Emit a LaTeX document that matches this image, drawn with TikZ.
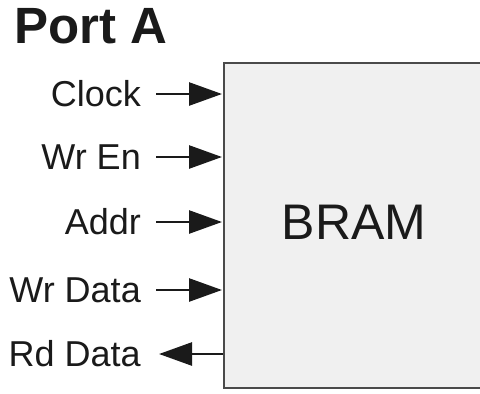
\documentclass[tikz,border=0pt]{standalone}
\usepackage{fontspec}
\setmainfont{Liberation Sans}
\usetikzlibrary{arrows.meta,calc}
\definecolor{boxfill}{HTML}{F0F0F0}
\definecolor{boxline}{HTML}{4A4A4A}
\definecolor{txt}{HTML}{1A1A1A}
\begin{document}
\begin{tikzpicture}[x=1pt,y=-1pt,
  sig/.style={font=\fontsize{36}{36}\selectfont, text=txt, anchor=east, inner sep=0pt},
  wire/.style={line width=2.6pt, draw=txt, -{Triangle[length=33pt,width=23pt]}, shorten >=1pt},
  rwire/.style={line width=2.6pt, draw=txt, {Triangle[length=33pt,width=23pt]}-}]
\useasboundingbox (0,0) rectangle (480,394);
\clip (0,0) rectangle (480,394);
\node[anchor=base west, inner sep=0pt, font=\bfseries\fontsize{51}{51}\selectfont, text=txt] (title) at (14,43) {Port A};
\node[draw=boxline, fill=boxfill, line width=2.4pt, anchor=north west, minimum width=270pt, minimum height=325pt, inner sep=0pt] (bram) at (223,62) {};
\node[font=\fontsize{50}{50}\selectfont, text=txt, inner sep=0pt] (bramtxt) at (354,222) {BRAM};
\node[sig] (clk) at (141,94) {Clock};
\node[sig] (wren) at (141,157) {Wr En};
\node[sig] (addr) at (141,222) {Addr};
\node[sig] (wdata) at (141,290) {Wr Data};
\node[sig] (rdata) at (141,354) {Rd Data};
\foreach \n in {clk,wren,addr,wdata}{
  \coordinate (\n s) at ($(\n.east)+(15,0)$);
  \draw[wire] (\n s) -- (bram.west |- \n s);
}
\coordinate (rdatas) at ($(rdata.east)+(18,0)$);
\draw[rwire] (rdatas) -- (bram.west |- rdatas);
\end{tikzpicture}
\end{document}
